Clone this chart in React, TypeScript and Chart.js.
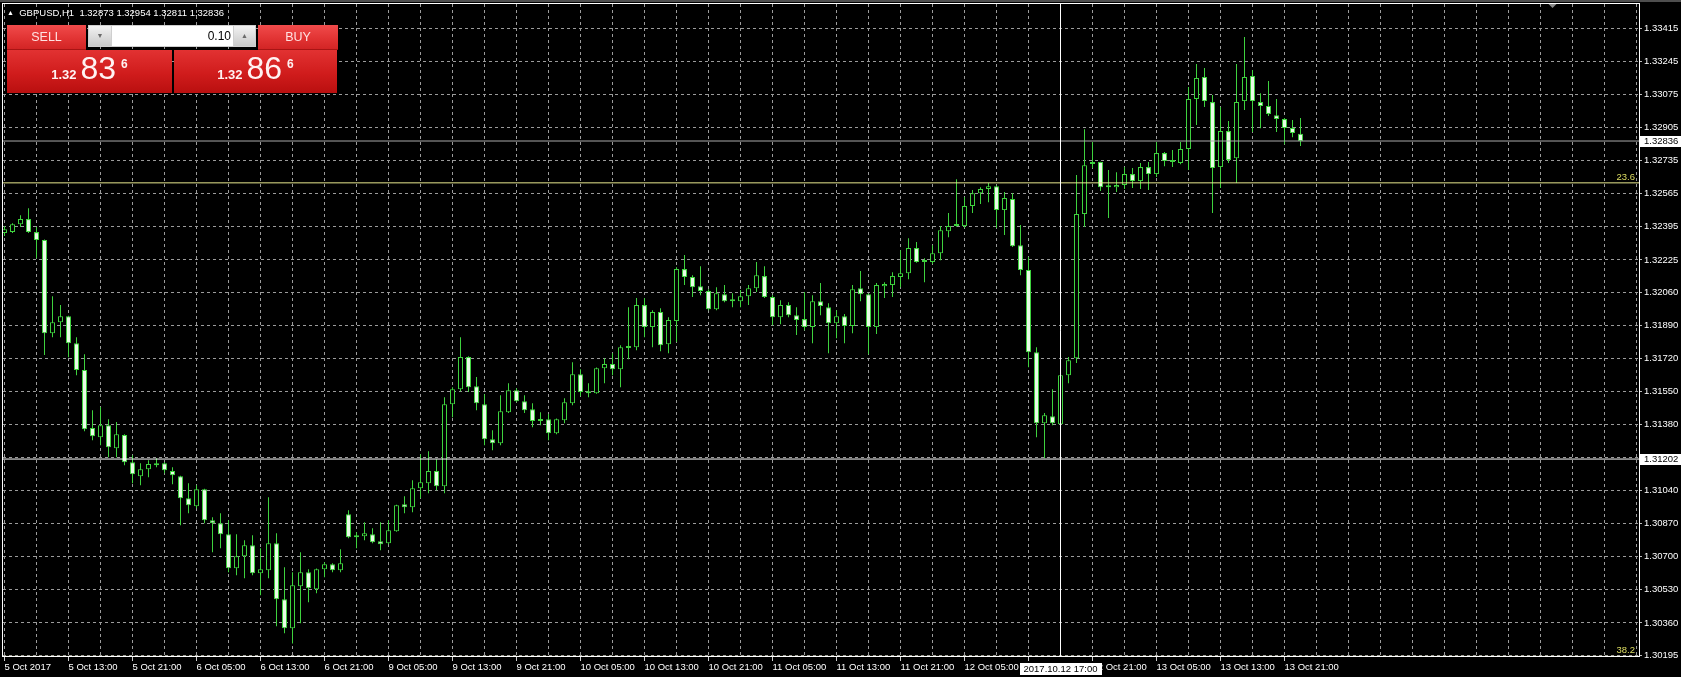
import React, { useEffect, useRef } from 'react';
import { Chart, registerables } from 'chart.js';

Chart.register(...registerables);

// ---------- data (GBPUSD H1, 5 Oct 2017 05:00 .. 13 Oct 2017 23:00) ----------
const opens = [
  1.32363, 1.32368, 1.32409, 1.32435, 1.32368, 1.32327, 1.31849, 1.31905, 1.31936, 1.31797,
  1.31659, 1.31361, 1.31314, 1.31376, 1.31258, 1.31325, 1.31186, 1.31114, 1.31150, 1.31176,
  1.31181, 1.31140, 1.31114, 1.31001, 1.30960, 1.31047, 1.30888, 1.30872, 1.30816, 1.30641,
  1.30703, 1.30759, 1.30615, 1.30631, 1.30770, 1.30482, 1.30333, 1.30548, 1.30620, 1.30533,
  1.30636, 1.30662, 1.30631, 1.30919, 1.30811, 1.30806, 1.30816, 1.30780, 1.30770, 1.30831,
  1.30970, 1.30954, 1.31052, 1.31078, 1.31140, 1.31062, 1.31484, 1.31561, 1.31726, 1.31576,
  1.31484, 1.31304, 1.31283, 1.31443, 1.31556, 1.31499, 1.31458, 1.31407, 1.31407, 1.31335,
  1.31402, 1.31489, 1.31638, 1.31551, 1.31540, 1.31669, 1.31690, 1.31664, 1.31772, 1.31777,
  1.31993, 1.31880, 1.31957, 1.31792, 1.31911, 1.32178, 1.32137, 1.32090, 1.32065, 1.31972,
  1.32049, 1.32018, 1.32013, 1.32039, 1.32080, 1.32142, 1.32034, 1.31931, 1.31993, 1.31941,
  1.31921, 1.31880, 1.32013, 1.31982, 1.31900, 1.31936, 1.31885, 1.32080, 1.32049, 1.31880,
  1.32090, 1.32096, 1.32137, 1.32157, 1.32286, 1.32224, 1.32214, 1.32260, 1.32373, 1.32399,
  1.32399, 1.32502, 1.32568, 1.32589, 1.32604, 1.32481, 1.32538, 1.32301, 1.32173, 1.31751,
  1.31386, 1.31422, 1.31381, 1.31633, 1.31720, 1.32461, 1.32718, 1.32728, 1.32604, 1.32599,
  1.32610, 1.32666, 1.32630, 1.32702, 1.32666, 1.32774, 1.32738, 1.32723, 1.32795, 1.33052,
  1.33165, 1.33036, 1.32702, 1.32887, 1.32748, 1.33041, 1.33170, 1.33036, 1.33016, 1.32969,
  1.32949, 1.32903, 1.32873,
];
const highs = [
  1.32399, 1.32414, 1.32455, 1.32491, 1.32394, 1.32330, 1.32039, 1.31993, 1.31938, 1.31828,
  1.31741, 1.31453, 1.31469, 1.31407, 1.31392, 1.31330, 1.31222, 1.31181, 1.31196, 1.31206,
  1.31186, 1.31160, 1.31116, 1.31078, 1.31068, 1.31049, 1.30903, 1.30924, 1.30888, 1.30816,
  1.30785, 1.30811, 1.30744, 1.31006, 1.30821, 1.30646, 1.30620, 1.30723, 1.30636, 1.30640,
  1.30672, 1.30667, 1.30739, 1.30939, 1.30826, 1.30877, 1.30847, 1.30877, 1.30888, 1.30967,
  1.31011, 1.31093, 1.31227, 1.31242, 1.31201, 1.31520, 1.31571, 1.31828, 1.31730, 1.31623,
  1.31535, 1.31350, 1.31530, 1.31592, 1.31566, 1.31530, 1.31489, 1.31443, 1.31433, 1.31410,
  1.31515, 1.31700, 1.31664, 1.31592, 1.31672, 1.31720, 1.31746, 1.31787, 1.31982, 1.32029,
  1.32029, 1.31967, 1.31977, 1.31931, 1.32188, 1.32250, 1.32147, 1.32193, 1.32075, 1.32085,
  1.32096, 1.32054, 1.32070, 1.32096, 1.32214, 1.32193, 1.32044, 1.32018, 1.32008, 1.31982,
  1.32060, 1.32044, 1.32106, 1.32003, 1.31967, 1.31947, 1.32096, 1.32168, 1.32052, 1.32106,
  1.32111, 1.32162, 1.32275, 1.32337, 1.32317, 1.32234, 1.32301, 1.32399, 1.32466, 1.32640,
  1.32548, 1.32584, 1.32599, 1.32620, 1.32607, 1.32574, 1.32568, 1.32404, 1.32240, 1.31777,
  1.31438, 1.31561, 1.31746, 1.31726, 1.32661, 1.32897, 1.32831, 1.32730, 1.32687, 1.32676,
  1.32702, 1.32697, 1.32723, 1.32728, 1.32831, 1.32779, 1.32790, 1.32831, 1.33113, 1.33232,
  1.33211, 1.33072, 1.33011, 1.32939, 1.33232, 1.33370, 1.33201, 1.33082, 1.33144, 1.33052,
  1.32954, 1.32944, 1.32954,
];
const lows = [
  1.32348, 1.32363, 1.32394, 1.32363, 1.32234, 1.31736, 1.31828, 1.31828, 1.31725, 1.31633,
  1.31345, 1.31299, 1.31273, 1.31211, 1.31211, 1.31170, 1.31078, 1.31068, 1.31109, 1.31160,
  1.31129, 1.31073, 1.30862, 1.30924, 1.30949, 1.30872, 1.30723, 1.30744, 1.30620, 1.30605,
  1.30590, 1.30605, 1.30502, 1.30590, 1.30343, 1.30307, 1.30255, 1.30358, 1.30466, 1.30512,
  1.30595, 1.30620, 1.30620, 1.30795, 1.30744, 1.30785, 1.30770, 1.30733, 1.30764, 1.30829,
  1.30924, 1.30929, 1.31001, 1.31026, 1.31042, 1.31026, 1.31417, 1.31551, 1.31546, 1.31453,
  1.31273, 1.31247, 1.31273, 1.31438, 1.31494, 1.31438, 1.31366, 1.31376, 1.31299, 1.31330,
  1.31386, 1.31479, 1.31525, 1.31520, 1.31538, 1.31592, 1.31633, 1.31571, 1.31715, 1.31761,
  1.31828, 1.31777, 1.31756, 1.31746, 1.31803, 1.32096, 1.32034, 1.32044, 1.31967, 1.31967,
  1.32008, 1.31982, 1.31982, 1.31993, 1.32060, 1.32030, 1.31890, 1.31895, 1.31931, 1.31839,
  1.31864, 1.31797, 1.31941, 1.31746, 1.31823, 1.31797, 1.31849, 1.32013, 1.31741, 1.31844,
  1.32029, 1.32034, 1.32085, 1.32126, 1.32210, 1.32111, 1.32204, 1.32224, 1.32342, 1.32396,
  1.32389, 1.32466, 1.32512, 1.32522, 1.32389, 1.32353, 1.32291, 1.32147, 1.31674, 1.31314,
  1.31206, 1.31376, 1.31379, 1.31592, 1.31695, 1.32394, 1.32697, 1.32579, 1.32440, 1.32574,
  1.32589, 1.32594, 1.32589, 1.32584, 1.32651, 1.32707, 1.32702, 1.32717, 1.32687, 1.32918,
  1.33011, 1.32466, 1.32594, 1.32723, 1.32620, 1.32995, 1.32882, 1.32902, 1.32964, 1.32882,
  1.32820, 1.32856, 1.32811,
];
const closes = [
  1.32383, 1.32409, 1.32435, 1.32368, 1.32327, 1.31849, 1.31905, 1.31936, 1.31797, 1.31659,
  1.31355, 1.31319, 1.31376, 1.31263, 1.31330, 1.31186, 1.31124, 1.31150, 1.31176, 1.31170,
  1.31145, 1.31119, 1.31001, 1.30965, 1.31047, 1.30888, 1.30872, 1.30816, 1.30641, 1.30703,
  1.30759, 1.30615, 1.30636, 1.30770, 1.30482, 1.30333, 1.30554, 1.30620, 1.30538, 1.30636,
  1.30662, 1.30631, 1.30667, 1.30800, 1.30800, 1.30821, 1.30775, 1.30764, 1.30836, 1.30965,
  1.30954, 1.31052, 1.31083, 1.31140, 1.31062, 1.31484, 1.31561, 1.31726, 1.31571, 1.31489,
  1.31304, 1.31283, 1.31448, 1.31556, 1.31499, 1.31453, 1.31397, 1.31397, 1.31335, 1.31407,
  1.31494, 1.31638, 1.31546, 1.31540, 1.31669, 1.31690, 1.31664, 1.31777, 1.31782, 1.31993,
  1.31880, 1.31957, 1.31787, 1.31916, 1.32178, 1.32137, 1.32085, 1.32065, 1.31972, 1.32054,
  1.32013, 1.32013, 1.32039, 1.32080, 1.32147, 1.32034, 1.31931, 1.31993, 1.31941, 1.31916,
  1.31880, 1.32013, 1.31988, 1.31900, 1.31936, 1.31885, 1.32075, 1.32049, 1.31880, 1.32096,
  1.32101, 1.32142, 1.32157, 1.32286, 1.32214, 1.32214, 1.32260, 1.32378, 1.32399, 1.32404,
  1.32502, 1.32568, 1.32589, 1.32604, 1.32481, 1.32543, 1.32296, 1.32173, 1.31751, 1.31386,
  1.31427, 1.31386, 1.31633, 1.31710, 1.32461, 1.32712, 1.32728, 1.32599, 1.32599, 1.32610,
  1.32666, 1.32630, 1.32702, 1.32666, 1.32774, 1.32733, 1.32728, 1.32795, 1.33052, 1.33160,
  1.33041, 1.32697, 1.32887, 1.32738, 1.33036, 1.33165, 1.33041, 1.33016, 1.32975, 1.32949,
  1.32903, 1.32877, 1.32836,
];

// one label every 8 bars, starting at the first bar
const timeLabels = [
  '5 Oct 2017', '5 Oct 13:00', '5 Oct 21:00', '6 Oct 05:00', '6 Oct 13:00', '6 Oct 21:00',
  '9 Oct 05:00', '9 Oct 13:00', '9 Oct 21:00', '10 Oct 05:00', '10 Oct 13:00', '10 Oct 21:00',
  '11 Oct 05:00', '11 Oct 13:00', '11 Oct 21:00', '12 Oct 05:00', '12 Oct 13:00', '12 Oct 21:00',
  '13 Oct 05:00', '13 Oct 13:00', '13 Oct 21:00',
];

const priceTicks = [
  1.33415, 1.33245, 1.33075, 1.32905, 1.32735, 1.32565, 1.32395, 1.32225, 1.32060, 1.31890,
  1.31720, 1.31550, 1.31380, 1.31210, 1.31040, 1.30870, 1.30700, 1.30530, 1.30360, 1.30195,
];

const symbolName = 'GBPUSD,H1';
const headerOHLC = ['1.32873', '1.32954', '1.32811', '1.32836'];
const bidPrice = 1.32836;
const crossPrice = 1.31202;
const crossBar = 132;
const crossTimeLabel = '2017.10.12 17:00';
const fibNames = ['23.6', '38.2'];
const fibPrices = [1.32621, 1.30188];
const lotSize = '0.10';
const sellQuote = ['1.32', '83', '6'];
const buyQuote = ['1.32', '86', '6'];

// ---------- axis ranges / styles ----------
const X_MIN = -0.1875;
const X_MAX = 204.3125;
const Y_MIN = 1.30185;
const Y_MAX = 1.3354;
const GREEN = '#3ed23e';
const BEAR_FILL = '#e9fce6';
const BULL_FILL = '#000000';
const GRID = '#9b9b9b';
const FONT = '"Liberation Sans", Arial, sans-serif';
const PANEL_FONT = '"Liberation Sans", Arial, sans-serif';

export default function App() {
  const canvasRef = useRef<HTMLCanvasElement | null>(null);

  useEffect(() => {
    const canvas = canvasRef.current;
    if (!canvas) return;

    const bodies = opens.map((o, i) => ({ x: i, y: [o, closes[i]] }));
    const wicks = lows.map((l, i) => ({ x: i, y: [l, highs[i]] }));
    const bodyColors = opens.map((o, i) => (closes[i] < o ? BEAR_FILL : BULL_FILL));

    const mt4Plugin = {
      id: 'mt4Decor',
      beforeDraw(chart: any) {
        const { ctx, width, height } = chart;
        ctx.save();
        ctx.fillStyle = '#000';
        ctx.fillRect(0, 0, width, height);
        ctx.restore();
      },
      afterDraw(chart: any) {
        const { ctx, chartArea: a, scales } = chart;
        const y = scales.y;
        const x = scales.x;
        ctx.save();
        // window top strip
        ctx.fillStyle = '#4e4e4e';
        ctx.fillRect(0, 0, chart.width, 2);
        // frame
        ctx.strokeStyle = '#ffffff';
        ctx.lineWidth = 1;
        ctx.strokeRect(a.left - 0.5, a.top - 0.5, a.right - a.left + 1, a.bottom - a.top);

        ctx.font = `9.5px ${FONT}`;
        // fib labels
        ctx.fillStyle = '#dede62';
        ctx.textAlign = 'right';
        ctx.textBaseline = 'bottom';
        fibPrices.forEach((p, i) => {
          ctx.fillText(fibNames[i], a.right - 4, y.getPixelForValue(p) - 1);
        });

        // price boxes on the axis
        const priceBox = (p: number) => {
          const py = Math.round(y.getPixelForValue(p));
          ctx.fillStyle = '#ffffff';
          ctx.fillRect(a.right + 1, py - 5, chart.width - a.right - 1, 11);
          ctx.fillStyle = '#000000';
          ctx.textAlign = 'left';
          ctx.textBaseline = 'middle';
          ctx.fillText(p.toFixed(5), a.right + 5, py + 0.5);
        };
        priceBox(bidPrice);
        priceBox(crossPrice);

        // time box of the crosshair
        const cx = x.getPixelForValue(crossBar);
        const tw = ctx.measureText(crossTimeLabel).width + 8;
        ctx.fillStyle = '#ffffff';
        ctx.fillRect(Math.round(cx - tw / 2), a.bottom + 6, Math.round(tw), 12);
        ctx.fillStyle = '#000000';
        ctx.textAlign = 'center';
        ctx.textBaseline = 'middle';
        ctx.fillText(crossTimeLabel, cx, a.bottom + 12.5);

        // chart-shift marker
        ctx.fillStyle = '#8a8a8a';
        const sx = x.getPixelForValue(193.5);
        ctx.beginPath();
        ctx.moveTo(sx - 4, a.top);
        ctx.lineTo(sx + 4, a.top);
        ctx.lineTo(sx, a.top + 4);
        ctx.closePath();
        ctx.fill();
        ctx.restore();
      },
    };

    const hLine = (label: string, price: number, color: string) => ({
      type: 'line',
      label,
      data: [{ x: X_MIN, y: price }, { x: X_MAX, y: price }],
      borderColor: color,
      borderWidth: 1,
      pointRadius: 0,
      order: 0,
    });

    const chart = new Chart(canvas, {
      type: 'bar',
      data: {
        datasets: [
          hLine('Crosshair price', crossPrice, '#ffffff'),
          {
            type: 'line',
            label: 'Crosshair time',
            data: [{ x: crossBar, y: Y_MIN }, { x: crossBar, y: Y_MAX }],
            borderColor: '#ffffff',
            borderWidth: 1,
            pointRadius: 0,
            order: 0,
          },
          hLine('Bid', bidPrice, '#a9a9a9'),
          hLine('Fibo 23.6', fibPrices[0], '#e9e98e'),
          hLine('Fibo 38.2', fibPrices[1], '#e9e98e'),
          {
            type: 'bar',
            label: 'Body',
            data: bodies as any,
            backgroundColor: bodyColors,
            borderColor: GREEN,
            borderWidth: 1,
            borderSkipped: false,
            inflateAmount: 0,
            barThickness: 5,
            maxBarThickness: 5,
            minBarLength: 2,
            grouped: false,
            order: 1,
          },
          {
            type: 'bar',
            label: 'Wick',
            data: wicks as any,
            backgroundColor: GREEN,
            borderWidth: 0,
            inflateAmount: 0,
            barThickness: 1,
            maxBarThickness: 1,
            grouped: false,
            order: 2,
          },
        ],
      },
      options: {
        responsive: false,
        animation: false,
        devicePixelRatio: 1,
        events: [],
        layout: { padding: { left: 3, top: 4, right: 0, bottom: 0 } },
        plugins: { legend: { display: false }, tooltip: { enabled: false } },
        scales: {
          x: {
            type: 'linear',
            min: X_MIN,
            max: X_MAX,
            offset: false,
            bounds: 'data',
            afterBuildTicks: (s: any) => {
              const t = [];
              for (let v = 0; v <= 204; v += 4) t.push({ value: v });
              s.ticks = t;
            },
            afterFit: (s: any) => {
              s.height = 20;
              s.paddingLeft = 0;
              s.paddingRight = 0;
            },
            grid: {
              offset: false,
              color: GRID,
              lineWidth: 1,
              drawTicks: true,
              tickLength: 4,
              tickWidth: 1,
              tickColor: (c: any) =>
                c.tick && c.tick.value % 8 === 0 && c.tick.value / 8 < timeLabels.length
                  ? '#cfcfcf'
                  : 'rgba(0,0,0,0)',
            },
            border: { display: false, dash: [3, 3] },
            ticks: {
              autoSkip: false,
              maxRotation: 0,
              minRotation: 0,
              align: 'start',
              padding: 1,
              color: '#ffffff',
              font: { family: FONT, size: 9.5 },
              callback: (v: any) => {
                const n = Number(v);
                return n % 8 === 0 && n / 8 < timeLabels.length ? timeLabels[n / 8] : '';
              },
            },
          },
          y: {
            type: 'linear',
            position: 'right',
            min: Y_MIN,
            max: Y_MAX,
            bounds: 'data',
            afterBuildTicks: (s: any) => {
              s.ticks = priceTicks.map((v) => ({ value: v }));
            },
            afterFit: (s: any) => {
              s.width = 42;
              s.paddingTop = 0;
              s.paddingBottom = 0;
            },
            grid: {
              color: GRID,
              lineWidth: 1,
              drawTicks: true,
              tickLength: 3,
              tickColor: '#bdbdbd',
            },
            border: { display: false, dash: [3, 3] },
            ticks: {
              autoSkip: false,
              padding: 2,
              color: '#ffffff',
              font: { family: FONT, size: 9.5 },
              callback: (v: any) => Number(v).toFixed(5),
            },
          },
        },
      },
      plugins: [mt4Plugin],
    } as any);

    return () => chart.destroy();
  }, []);

  const red = 'linear-gradient(#f04b4b 0%, #e23434 55%, #d22525 100%)';
  const bigRed = 'linear-gradient(#e23232 0%, #d01c1c 55%, #b90f0f 100%)';
  const btnGray = 'linear-gradient(#f2f2f2, #c9c9c9)';

  const quote = (q: string[], left: number, width: number) => (
    <div
      style={{
        position: 'absolute', left, top: 50, width, height: 43, background: bigRed,
        color: '#fff3f3', fontFamily: PANEL_FONT, textAlign: 'center', whiteSpace: 'nowrap',
      }}
    >
      <div style={{ position: 'absolute', left: 0, right: 0, top: 3, height: 31, lineHeight: '31px', fontSize: 32 }}>
        <span style={{ fontSize: 13, fontWeight: 'bold' }}>{q[0]}</span>
        <span style={{ fontSize: 32, marginLeft: 4 }}>{q[1]}</span>
        <span style={{ fontSize: 12, fontWeight: 'bold', marginLeft: 5, position: 'relative', top: -11 }}>{q[2]}</span>
      </div>
    </div>
  );

  const tradeBtn = (text: string, left: number, width: number) => (
    <div
      style={{
        position: 'absolute', left, top: 25, width, height: 25, background: red,
        color: '#ffe2e2', fontFamily: PANEL_FONT, fontSize: 12.5, lineHeight: '24px',
        textAlign: 'center', boxSizing: 'border-box', borderBottom: '1px solid #a81414',
      }}
    >
      {text}
    </div>
  );

  return (
    <div style={{ position: 'fixed', left: 0, top: 0, width: 1681, height: 677, background: '#000', overflow: 'hidden' }}>
      <canvas ref={canvasRef} width={1681} height={677} style={{ position: 'absolute', left: 0, top: 0 }} />
      <div
        style={{
          position: 'absolute', left: 7, top: 7, color: '#ffffff', fontFamily: FONT, fontSize: 9.5,
          lineHeight: '12px', whiteSpace: 'pre',
        }}
      >
        <span style={{ fontSize: 7, position: 'relative', top: -1 }}>▲</span>
        {'  ' + symbolName + '  ' + headerOHLC.join(' ')}
      </div>
      {tradeBtn('SELL', 7, 79)}
      <div style={{ position: 'absolute', left: 88, top: 25, width: 168, height: 22, background: '#cfcfcf' }}>
        <div
          style={{
            position: 'absolute', left: 1, top: 1, width: 22, height: 20, background: btnGray,
            color: '#6a6a6a', fontSize: 7, lineHeight: '20px', textAlign: 'center', fontFamily: FONT,
          }}
        >
          ▼
        </div>
        <div
          style={{
            position: 'absolute', left: 24, top: 1, width: 121, height: 20, background: '#ffffff',
            color: '#000', fontSize: 12, lineHeight: '20px', textAlign: 'right', fontFamily: PANEL_FONT,
            boxSizing: 'border-box', paddingRight: 2,
          }}
        >
          {lotSize}
        </div>
        <div
          style={{
            position: 'absolute', left: 146, top: 1, width: 21, height: 20, background: btnGray,
            color: '#6a6a6a', fontSize: 7, lineHeight: '20px', textAlign: 'center', fontFamily: FONT,
          }}
        >
          ▲
        </div>
      </div>
      {tradeBtn('BUY', 258, 80)}
      {quote(sellQuote, 7, 165)}
      {quote(buyQuote, 174, 163)}
    </div>
  );
}
